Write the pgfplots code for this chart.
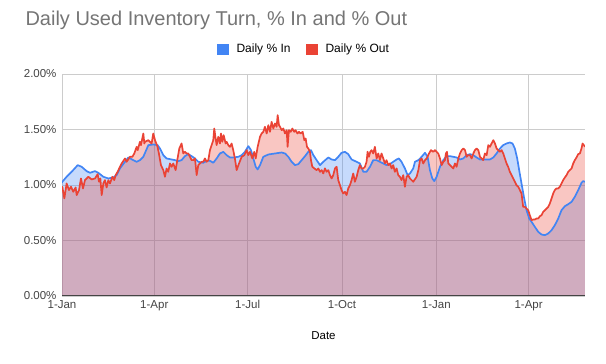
\documentclass[border=0pt]{standalone}
\usepackage{pgfplots}
\pgfplotsset{compat=1.18}
\usepackage{pgfplotstable}
\usepackage{fontspec}
\setmainfont{Liberation Sans}
\definecolor{gblue}{HTML}{4285F4}
\definecolor{gred}{HTML}{EA4335}
\definecolor{ggrid}{HTML}{CCCCCC}
\definecolor{gtitle}{HTML}{757575}
\definecolor{gtext}{HTML}{444444}

\pgfplotstableread{
day val
0.0 1.02
0.3 1.029
4.5 1.074
9.4 1.119
15.3 1.179
19.2 1.164
24.0 1.125
27.3 1.110
32.2 1.125
35.4 1.110
40.3 1.074
45.2 1.059
50.0 1.068
53.3 1.089
56.5 1.149
61.4 1.209
64.7 1.248
69.5 1.224
72.8 1.209
76.0 1.224
79.3 1.254
84.2 1.359
89.0 1.365
93.2 1.359
95.5 1.329
98.8 1.269
102.0 1.239
106.9 1.230
110.1 1.224
113.4 1.215
116.6 1.224
119.9 1.260
123.1 1.278
126.4 1.260
129.7 1.239
132.9 1.209
137.8 1.200
141.0 1.218
144.3 1.218
147.5 1.200
150.8 1.239
154.0 1.284
157.3 1.299
160.5 1.269
163.8 1.248
167.0 1.248
172.0 1.254
175.2 1.269
178.4 1.299
181.7 1.350
184.3 1.314
186.6 1.239
188.9 1.164
190.8 1.140
193.1 1.179
196.3 1.254
201.2 1.275
207.7 1.284
214.2 1.293
217.5 1.284
220.7 1.254
223.9 1.209
227.2 1.179
230.5 1.188
233.7 1.224
237.0 1.260
240.2 1.299
242.8 1.314
245.1 1.269
248.3 1.224
251.6 1.179
254.8 1.209
259.7 1.248
262.9 1.230
266.2 1.224
269.4 1.254
272.6 1.290
275.9 1.299
279.1 1.278
282.4 1.230
287.3 1.209
290.5 1.194
293.8 1.119
297.0 1.119
300.3 1.164
303.5 1.224
306.8 1.224
310.0 1.209
313.3 1.194
316.5 1.179
319.8 1.188
323.0 1.209
326.3 1.230
328.5 1.239
331.1 1.209
334.4 1.149
337.0 1.089
339.3 1.104
342.5 1.149
344.2 1.209
347.5 1.224
350.7 1.254
354.0 1.290
356.5 1.254
358.8 1.134
361.1 1.059
363.0 1.035
365.3 1.074
368.6 1.164
371.8 1.224
375.1 1.260
378.3 1.260
381.6 1.254
384.8 1.248
388.1 1.230
391.3 1.239
394.6 1.269
397.8 1.278
401.1 1.269
404.3 1.248
407.6 1.230
410.8 1.230
414.1 1.230
417.3 1.230
420.6 1.248
423.8 1.284
427.1 1.329
430.3 1.359
433.5 1.374
436.7 1.383
439.3 1.374
441.6 1.329
443.9 1.239
445.8 1.134
448.1 1.014
450.4 0.894
453.0 0.773
455.6 0.698
457.9 0.668
461.1 0.623
464.4 0.578
467.6 0.554
470.9 0.548
474.1 0.563
477.4 0.593
480.6 0.638
483.9 0.698
487.1 0.773
490.4 0.809
493.6 0.827
496.9 0.848
500.1 0.894
503.4 0.954
506.6 1.020
508.2 1.035
510.0 1.029
}\datain

\pgfplotstableread{
day val
0.0 0.95
0.3 0.984
2.3 0.879
4.5 1.014
6.8 0.954
8.8 0.984
11.0 0.939
13.3 0.978
14.3 0.909
16.6 0.954
18.5 1.059
20.5 0.969
22.4 1.044
25.7 1.074
28.9 1.050
32.2 1.059
34.8 1.098
36.1 1.029
37.4 1.059
38.7 0.909
40.3 1.014
41.9 1.044
43.5 0.978
45.2 1.044
46.8 1.014
49.1 1.074
51.0 1.044
52.3 1.089
54.3 1.119
56.5 1.164
58.2 1.194
61.4 1.239
63.0 1.209
66.3 1.254
68.6 1.254
70.5 1.284
72.8 1.344
73.8 1.314
76.0 1.389
77.0 1.359
79.3 1.464
80.3 1.374
80.9 1.389
84.2 1.404
87.4 1.374
89.0 1.464
90.7 1.404
93.2 1.344
94.5 1.284
96.5 1.179
98.8 1.134
100.4 1.074
102.0 1.149
103.6 1.119
105.3 1.194
106.9 1.164
108.5 1.194
110.8 1.134
112.7 1.239
114.4 1.329
116.6 1.374
118.3 1.284
119.9 1.299
121.5 1.284
123.1 1.284
124.8 1.254
126.4 1.224
128.0 1.224
129.7 1.239
131.3 1.089
132.9 1.179
134.5 1.194
136.2 1.209
137.8 1.209
139.4 1.239
141.0 1.209
142.7 1.224
144.3 1.314
145.9 1.359
147.5 1.404
148.5 1.509
149.8 1.419
150.8 1.359
152.4 1.434
154.0 1.374
155.0 1.464
156.3 1.389
157.6 1.449
159.6 1.374
160.5 1.389
162.2 1.359
163.8 1.344
165.4 1.374
167.0 1.314
168.6 1.239
170.3 1.134
172.0 1.179
175.2 1.254
177.8 1.269
180.1 1.314
181.7 1.269
183.3 1.299
185.6 1.239
187.5 1.299
188.9 1.239
190.8 1.344
193.1 1.434
194.7 1.464
196.3 1.479
197.9 1.524
199.6 1.464
201.2 1.539
202.8 1.479
204.4 1.569
206.1 1.509
207.7 1.554
209.3 1.524
210.3 1.629
211.6 1.539
212.6 1.524
214.2 1.494
215.8 1.509
217.5 1.464
219.1 1.494
220.0 1.344
221.3 1.494
223.0 1.479
224.6 1.509
226.5 1.479
227.8 1.494
229.5 1.464
231.1 1.479
232.7 1.464
234.7 1.479
236.3 1.404
237.6 1.419
238.9 1.344
240.2 1.329
241.8 1.299
242.8 1.224
244.1 1.164
246.1 1.149
248.3 1.134
249.9 1.149
251.6 1.119
253.2 1.134
254.8 1.104
256.4 1.150
258.0 1.119
259.7 1.134
261.3 1.089
262.9 1.059
264.5 1.089
266.2 1.149
267.8 1.164
269.4 1.044
271.0 0.999
272.6 0.954
274.3 0.924
275.9 0.939
277.5 0.909
279.1 0.969
280.8 0.999
282.4 1.044
284.0 1.104
285.6 1.029
287.3 1.074
288.9 1.134
290.5 1.179
292.1 1.149
293.8 1.149
295.4 1.164
297.0 1.209
298.0 1.299
299.3 1.254
300.6 1.299
301.9 1.314
303.5 1.284
305.1 1.344
306.8 1.239
308.4 1.284
310.0 1.224
311.6 1.284
313.3 1.239
314.9 1.194
316.5 1.224
318.1 1.179
319.8 1.194
321.4 1.149
323.0 1.179
324.6 1.119
326.3 1.149
327.9 1.089
329.5 1.074
331.1 1.044
332.8 1.089
334.4 0.984
336.0 1.074
337.6 1.089
339.3 1.059
340.9 1.044
342.5 1.029
345.8 1.074
347.5 1.134
349.1 1.224
350.7 1.239
352.3 1.194
354.0 1.224
355.6 1.239
357.9 1.284
359.8 1.314
362.1 1.299
363.7 1.314
365.3 1.299
366.9 1.284
368.6 1.239
370.2 1.179
371.8 1.209
373.4 1.224
374.4 1.284
375.4 1.299
376.7 1.194
378.3 1.179
380.0 1.164
381.6 1.149
383.2 1.194
384.8 1.164
386.5 1.239
388.1 1.284
389.7 1.314
391.3 1.329
393.0 1.314
394.6 1.254
396.2 1.269
397.8 1.269
399.5 1.239
401.1 1.284
402.7 1.314
404.3 1.329
406.0 1.314
407.6 1.254
409.2 1.239
410.8 1.224
412.4 1.284
414.1 1.269
415.7 1.359
417.3 1.344
418.9 1.374
420.6 1.404
422.2 1.374
423.8 1.329
425.4 1.314
427.1 1.299
428.7 1.314
430.3 1.284
431.9 1.239
433.5 1.194
435.1 1.164
436.7 1.119
438.4 1.089
440.0 1.059
441.6 1.029
443.2 0.999
444.9 0.984
446.5 0.954
448.1 0.924
449.7 0.803
451.4 0.803
453.0 0.788
454.6 0.773
456.2 0.728
457.9 0.683
459.5 0.689
461.1 0.689
462.7 0.698
464.4 0.698
466.0 0.719
467.6 0.728
469.2 0.758
470.9 0.773
472.5 0.788
474.1 0.803
475.7 0.833
477.4 0.879
479.0 0.924
480.6 0.954
482.2 0.969
483.9 0.969
485.5 0.984
487.1 1.014
488.7 1.044
490.4 1.068
492.0 1.089
493.6 1.119
495.2 1.134
496.9 1.149
498.5 1.194
500.1 1.224
501.7 1.248
503.4 1.278
505.0 1.284
506.6 1.329
507.6 1.374
508.9 1.359
510.0 1.344
}\dataout

\begin{document}
\begin{tikzpicture}[x=1pt,y=1pt]
\begin{axis}[
  at={(62pt,68pt)}, anchor=south west,
  scale only axis, width=523pt, height=222pt,
  xmin=0, xmax=510, ymin=0, ymax=2,
  axis line style={draw=none},
  xtick={0,90,181,273,365,455},
  xticklabels={1-Jan,1-Apr,1-Jul,1-Oct,1-Jan,1-Apr},
  ytick={0,0.5,1,1.5,2},
  yticklabels={0.00\%,0.50\%,1.00\%,1.50\%,2.00\%},
  major tick length=0pt,
  grid=major,
  major grid style={ggrid, line width=0.8pt},
  tick label style={font=\fontsize{11.5}{13}\selectfont, text=gtext},
  xticklabel style={yshift=-1pt},
  yticklabel style={xshift=-2pt},
  legend style={at={(axis description cs:0.4627,1.111)}, anchor=center,
    draw=none, fill=none, legend columns=2,
    font=\fontsize{12}{14}\selectfont,
    /tikz/every even column/.append style={column sep=13.5pt}},
  legend cell align=left,
]
\addplot[draw=none, fill=gblue, fill opacity=0.3, forget plot] table[x=day,y=val] {\datain} \closedcycle;
\addplot[draw=none, fill=gred, fill opacity=0.3, forget plot] table[x=day,y=val] {\dataout} \closedcycle;
\addplot[gblue, line width=1.7pt, line join=round, forget plot] table[x=day,y=val] {\datain};
\addplot[gred, line width=1.7pt, line join=round, forget plot] table[x=day,y=val] {\dataout};
\draw[gtext, line width=1pt] (axis cs:0,0) -- (axis cs:510,0);
\addlegendimage{legend image code/.code={\fill[gblue, draw=none] (0pt,-5.5pt) rectangle (12pt,5.5pt); \path[draw=none, fill=none] (0pt,-0.1pt) rectangle (17.5pt,0.1pt);}}
\addlegendentry{Daily \% In}
\addlegendimage{legend image code/.code={\fill[gred, draw=none] (0pt,-5.5pt) rectangle (12pt,5.5pt); \path[draw=none, fill=none] (0pt,-0.1pt) rectangle (17.5pt,0.1pt);}}
\addlegendentry{Daily \% Out}
\end{axis}
\node[anchor=west, text=gtitle, font=\fontsize{20}{24}\selectfont] at (22pt,344pt) {Daily Used Inventory Turn, \% In and \% Out};
\node[text=black, font=\fontsize{11.5}{13}\selectfont] at (323.5pt,28pt) {Date};
\pgfresetboundingbox
\path[use as bounding box] (0,0) rectangle (606pt,364pt);
\end{tikzpicture}
\end{document}
